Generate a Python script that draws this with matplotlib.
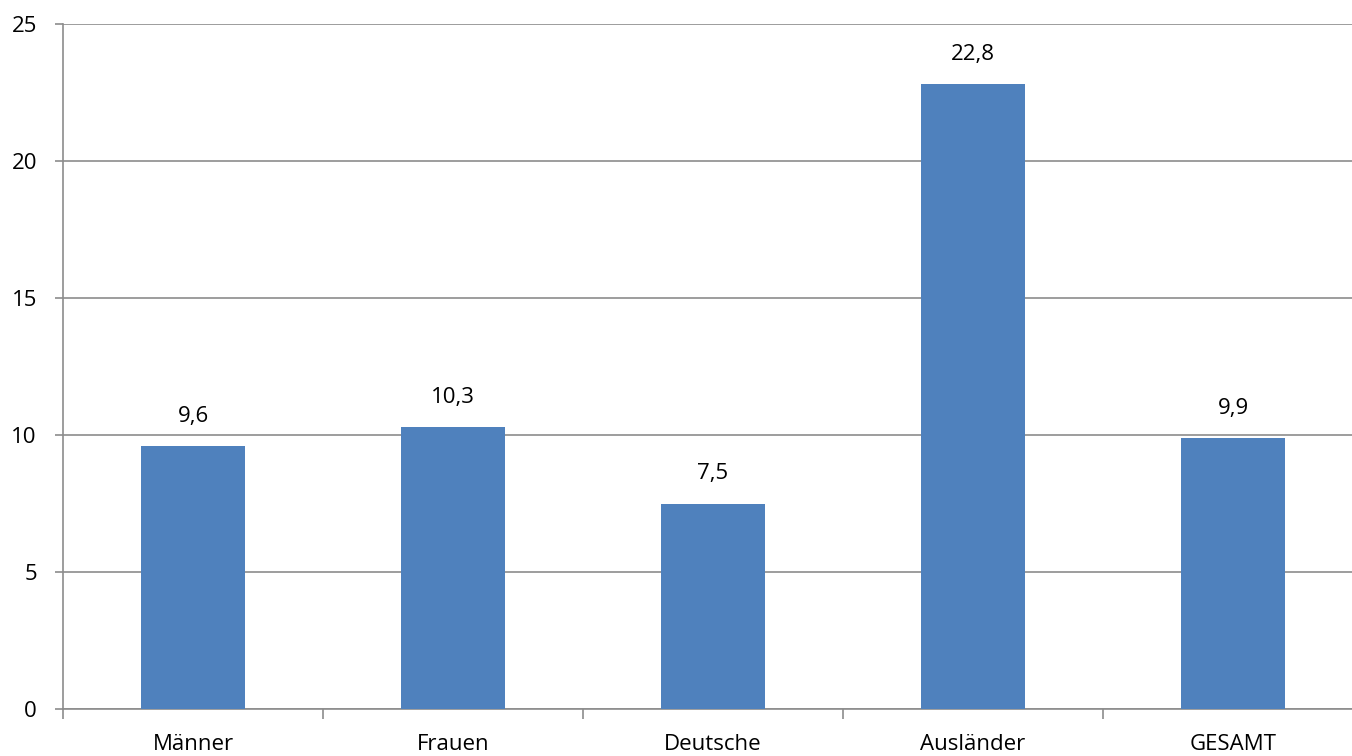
import matplotlib
matplotlib.use("Agg")
import matplotlib.pyplot as plt

# data
categories = ["Männer", "Frauen", "Deutsche", "Ausländer", "GESAMT"]
values = [9.6, 10.3, 7.5, 22.8, 9.9]
y_ticks = [0, 5, 10, 15, 20, 25]

bar_color = "#4F81BD"
grid_color = "#8C8C8C"
font_size = 16

plt.rcParams["font.family"] = ["Open Sans", "DejaVu Sans"]

W, H = 1352, 756
fig = plt.figure(figsize=(W / 100, H / 100), dpi=100)
# the plot area runs past the right edge of the picture, as in the original
ax = fig.add_axes([63 / W, (H - 709) / H, 1300 / W, 685 / H])

x = list(range(len(categories)))
ax.bar(x, values, width=0.4, color=bar_color, zorder=3)

for xi, v in zip(x, values):
    ax.text(xi, v + 0.7, f"{v:.1f}".replace(".", ","), ha="center", va="bottom",
            fontsize=font_size, color="black")

ax.set_xlim(-0.5, len(categories) - 0.5)
ax.set_ylim(0, 25)
ax.set_yticks(y_ticks)
ax.set_yticklabels([str(t) for t in y_ticks], fontsize=font_size)
ax.yaxis.grid(True, color=grid_color, linewidth=1.2, zorder=0)
ax.tick_params(axis="y", length=5.8, width=1.2, color=grid_color, pad=13)

# category labels centred, tick marks between categories
ax.set_xticks(x)
ax.set_xticklabels(categories, fontsize=font_size)
ax.tick_params(axis="x", length=0, pad=18)
ax.set_xticks([i - 0.5 for i in range(len(categories) + 1)], minor=True)
ax.tick_params(axis="x", which="minor", length=7, width=1.2, color=grid_color)

for side in ["top", "right"]:
    ax.spines[side].set_visible(False)
for side in ["left", "bottom"]:
    ax.spines[side].set_color(grid_color)
    ax.spines[side].set_linewidth(1.2)

fig.savefig("out.png", dpi=100)
